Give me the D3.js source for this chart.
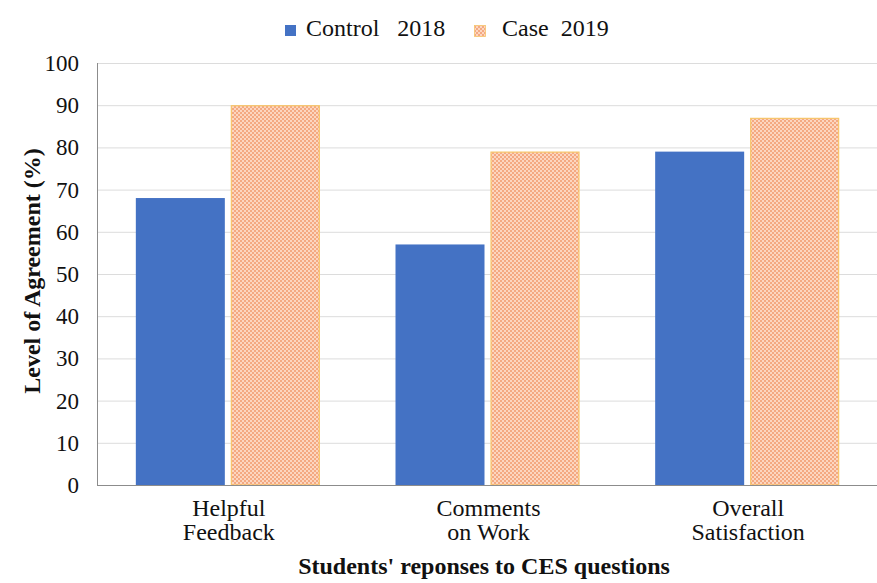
<!DOCTYPE html>
<html><head><meta charset="utf-8">
<script src="https://cdn.jsdelivr.net/npm/d3@7"></script>
<style>body{margin:0;background:#fff;}</style>
</head><body>
<svg id="c" width="877" height="583"></svg>
<script>
const categories = [["Helpful","Feedback"],["Comments","on Work"],["Overall","Satisfaction"]];
const seriesNames = ["Control   2018","Case  2019"];
const control2018 = [68, 57, 79];
const case2019 = [90, 79, 87];
const yTicks = [0,10,20,30,40,50,60,70,80,90,100];

const FF = "Liberation Serif";
const svg = d3.select("#c").attr("font-family",FF);
const m = {l:97, r:877, t:63, b:485};
const x = d3.scaleBand().domain(d3.range(categories.length)).range([m.l+1, m.r]);
const y = d3.scaleLinear().domain([0,100]).range([m.b, m.t]);

const defs = svg.append("defs");
const pat = defs.append("pattern").attr("id","dots").attr("patternUnits","userSpaceOnUse").attr("width",4).attr("height",4);
pat.append("rect").attr("width",4).attr("height",4).attr("fill","#fcd6c0");
pat.append("rect").attr("width",2).attr("height",2).attr("fill","#f4a982");
pat.append("rect").attr("x",2).attr("y",2).attr("width",2).attr("height",2).attr("fill","#f4a982");

// grid
svg.append("g").selectAll("line").data(yTicks.filter(d=>d>0)).join("line")
  .attr("x1",m.l).attr("x2",m.r).attr("y1",d=>y(d)+0.5).attr("y2",d=>y(d)+0.5)
  .attr("stroke","#dcdcdc").attr("stroke-width",1);

// y tick labels
svg.append("g").selectAll("text").data(yTicks).join("text")
  .attr("x",79).attr("y",d=>y(d)).attr("dy","0.35em").attr("text-anchor","end")
  .attr("font-family",FF).attr("font-size",23).attr("fill","#111").text(d=>d);

const bw = 89, gap = 6;
const bars = svg.append("g");
bars.selectAll(".c").data(control2018).join("rect").attr("class","c")
  .attr("x",(d,i)=>x(i)+x.bandwidth()/2 - bw - gap/2).attr("width",bw)
  .attr("y",d=>y(d)).attr("height",d=>y(0)-y(d)).attr("fill","#4472c4");
bars.selectAll(".k").data(case2019).join("rect").attr("class","k")
  .attr("x",(d,i)=>x(i)+x.bandwidth()/2 + gap/2 + 0.5).attr("width",bw-1)
  .attr("y",d=>y(d)+0.5).attr("height",d=>y(0)-y(d)-0.5).attr("fill","url(#dots)")
  .attr("stroke","#f7c56a").attr("stroke-width",1.2);

// axes lines
svg.append("line").attr("x1",m.l+0.5).attr("x2",m.l+0.5).attr("y1",m.t).attr("y2",m.b).attr("stroke","#8c8c8c");
svg.append("line").attr("x1",m.l).attr("x2",m.r).attr("y1",m.b+0.5).attr("y2",m.b+0.5).attr("stroke","#8c8c8c");

// category labels
const cl = svg.append("g").selectAll("text").data(categories).join("text")
  .attr("x",(d,i)=>x(i)+x.bandwidth()/2+1).attr("y",516).attr("text-anchor","middle")
  .attr("font-family",FF).attr("font-size",24).attr("fill","#111");
cl.each(function(d){
  const t = d3.select(this);
  d.forEach((s,j)=>t.append("tspan").attr("x",t.attr("x")).attr("dy",j?24:0).text(s));
});

// axis titles
svg.append("text").attr("x",484).attr("y",574).attr("text-anchor","middle")
  .attr("font-family",FF).attr("font-size",24).attr("font-weight","bold").attr("fill","#111").text("Students' reponses to CES questions");
svg.append("text").attr("transform","translate(40,271) rotate(-90)").attr("text-anchor","middle")
  .attr("font-family",FF).attr("font-size",24).attr("font-weight","bold").attr("fill","#111").text("Level of Agreement (%)");

// legend
const lg = svg.append("g");
lg.append("rect").attr("x",285).attr("y",25).attr("width",11).attr("height",11).attr("fill","#4472c4");
lg.append("text").attr("x",306).attr("y",36).attr("font-family",FF).attr("font-size",24).attr("fill","#111").style("white-space","pre").text(seriesNames[0]);
lg.append("rect").attr("x",474.5).attr("y",25.5).attr("width",11).attr("height",11).attr("fill","url(#dots)").attr("stroke","#f7c56a").attr("stroke-width",0.8);
lg.append("text").attr("x",502).attr("y",36).attr("font-family",FF).attr("font-size",24).attr("fill","#111").style("white-space","pre").text(seriesNames[1]);
</script>
</body></html>
